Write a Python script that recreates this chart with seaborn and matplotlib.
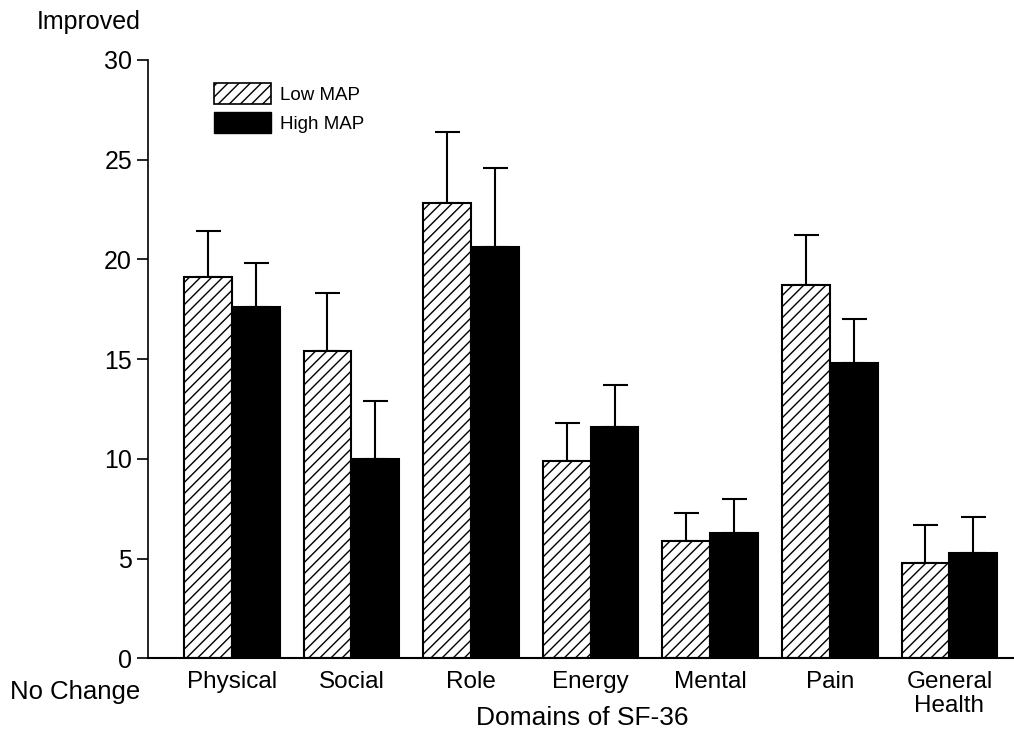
import numpy as np
import pandas as pd
import matplotlib
matplotlib.use("Agg")
import matplotlib.pyplot as plt
import seaborn as sns
from matplotlib.patches import Patch

domains = ["Physical", "Social", "Role", "Energy", "Mental", "Pain", "General\nHealth"]
groups = ["Low MAP", "High MAP"]
low_map = [19.1, 15.4, 22.8, 9.9, 5.9, 18.7, 4.8]
high_map = [17.6, 10.0, 20.6, 11.6, 6.3, 14.8, 5.3]
low_err = [2.3, 2.9, 3.6, 1.9, 1.4, 2.5, 1.9]
high_err = [2.2, 2.9, 4.0, 2.1, 1.7, 2.2, 1.8]

df = pd.DataFrame({
    "Domain": domains * 2,
    "Group": [groups[0]] * 7 + [groups[1]] * 7,
    "Score": low_map + high_map,
})

sns.set_style("ticks")
plt.rcParams["font.family"] = ["Liberation Sans", "DejaVu Sans"]
plt.rcParams["hatch.linewidth"] = 1.0
for k in ["text.color", "axes.labelcolor", "xtick.color", "ytick.color", "axes.edgecolor"]:
    plt.rcParams[k] = "black"

fig = plt.figure(figsize=(10.14, 7.38), dpi=100)
ax = fig.add_axes([0.146, 0.108, 0.854, 0.811])

sns.barplot(data=df, x="Domain", y="Score", hue="Group", hue_order=groups,
            palette={"Low MAP": "white", "High MAP": "black"},
            edgecolor="black", linewidth=1.5, errorbar=None, width=0.8,
            legend=False, ax=ax)

# hatch the low MAP bars and add one-sided error bars
for bar in ax.containers[0]:
    bar.set_hatch("///")
for cont, vals, errs in zip(ax.containers, [low_map, high_map], [low_err, high_err]):
    xs = [b.get_x() + b.get_width() / 2 for b in cont]
    ax.errorbar(xs, vals, yerr=[np.zeros(len(errs)), errs], fmt="none",
                ecolor="black", elinewidth=1.5, capsize=9, capthick=1.5, zorder=0)

ax.set_ylim(0, 30)
ax.set_xlim(-0.7, 6.54)
ax.set_yticks([0, 5, 10, 15, 20, 25, 30])
ax.tick_params(axis="y", labelsize=18, length=8, width=1.2, direction="out")
ax.tick_params(axis="x", labelsize=17.5, length=0, pad=9)
for lbl in ax.get_xticklabels():
    lbl.set_linespacing(1.15)
ax.set_ylabel("")
ax.set_xlabel("")
sns.despine(ax=ax)
ax.spines["left"].set_linewidth(1.2)
ax.spines["bottom"].set_linewidth(1.5)

handles = [Patch(facecolor="white", edgecolor="black", hatch="///", linewidth=1.2),
           Patch(facecolor="black", edgecolor="black")]
ax.legend(handles, groups, loc="upper left", bbox_to_anchor=(0.057, 0.99),
          frameon=False, fontsize=13.5, handlelength=3.0, handleheight=1.4,
          handletextpad=0.5, labelspacing=0.4)

fig.text(0.036, 0.97, "Improved", fontsize=18, va="center", ha="left")
fig.text(0.01, 0.062, "No Change", fontsize=18.5, va="center", ha="left")
fig.text(0.574, 0.027, "Domains of SF-36", fontsize=19, va="center", ha="center")

fig.savefig("out.png", dpi=100)
